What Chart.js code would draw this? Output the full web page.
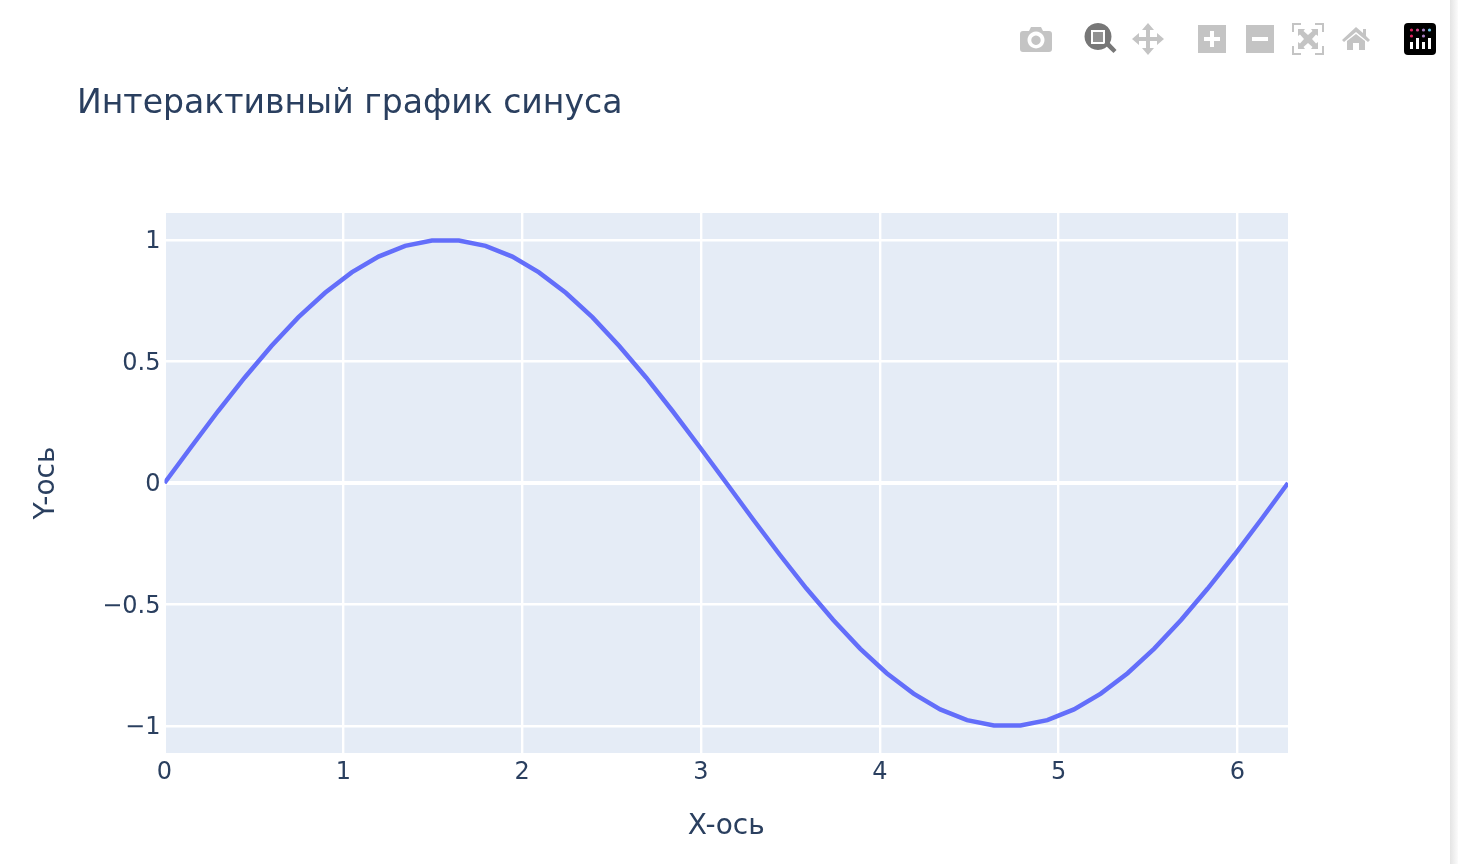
<!DOCTYPE html>
<html lang="ru">
<head>
<meta charset="utf-8">
<title>Интерактивный график синуса</title>
<script src="https://cdn.jsdelivr.net/npm/chart.js@4/dist/chart.umd.min.js"></script>
<style>
  html, body { margin: 0; padding: 0; background: #fff; overflow: hidden; }
  #wrap { position: relative; width: 1450px; height: 864px; }
  #edge { position: absolute; left: 1450px; top: 0; width: 8px; height: 864px;
          background: linear-gradient(to right, #e4e4e4, #fbfbfb); }
  #modebar { position: absolute; left: 1000px; top: 0; }
</style>
</head>
<body>
<div id="wrap">
  <canvas id="sine-chart"></canvas>
  <!-- Modebar icons -->
  <svg id="modebar" width="450" height="70" viewBox="1000 0 450 70">
    <g fill="#c4c4c4">
      <path fill-rule="evenodd" d="M1023 31h6l2-4h10l2 4h6a3 3 0 0 1 3 3v15a3 3 0 0 1-3 3h-26a3 3 0 0 1-3-3v-15a3 3 0 0 1 3-3zM1036 31.500a8.500 8.500 0 1 0 .01 0zM1036 35.500a4.700 4.700 0 1 1-.01 0z"/>
      <path d="M1148 23l6 7h-4v7h7v-4l7 6-7 6v-4h-7v7h4l-6 7-6-7h4v-7h-7v4l-7-6 7-6v4h7v-7h-4z"/>
      <path fill-rule="evenodd" d="M1198 25h28v28h-28zM1210 31v6h-6v4h6v6h4v-6h6v-4h-6v-6z"/>
      <path fill-rule="evenodd" d="M1246 25h28v28h-28zM1252 37v4h16v-4z"/>
      <path d="M1292 23h9v2h-7v7h-2zM1315 23h9v9h-2v-7h-7zM1292 46h2v7h7v2h-9zM1322 46h2v9h-9v-2h7z"/>
      <path d="M1298 29h7l-1.500 2 4.500 4 4.500-4-1.500-2h7v7l-2-1.500-4 4.500 4 4.500 2-1.500v7h-7l1.500-2-4.500-4-4.500 4 1.500 2h-7v-7l2 1.500 4-4.500-4-4.500-2 1.500z"/>
      <path d="M1356 27l7 6v-4h3v7l4 4-2 2-12-10-12 10-2-2zM1347 41l9-7 9 7v9h-6v-7h-6v7h-6z"/>
    </g>
    <path d="M1104 44l3.500-3.500 9 9.500-3 3z" fill="#777"/>
    <path fill-rule="evenodd" d="M1098 23a13.500 13.500 0 1 0 .01 0zM1091 30h14v14h-14z" fill="#777"/>
    <rect x="1093" y="32" width="10" height="10" fill="#777" opacity="0.8"/>
    <rect x="1404" y="23" width="32" height="32" rx="4" fill="#000"/>
    <g fill="#fff">
      <rect x="1410" y="42" width="3" height="7"/>
      <rect x="1416" y="38" width="3" height="11"/>
      <rect x="1422" y="42" width="3" height="7"/>
      <rect x="1428" y="38" width="3" height="11"/>
    </g>
    <g>
      <circle cx="1411.500" cy="30" r="1.600" fill="#e0245e"/>
      <circle cx="1417.500" cy="30" r="1.600" fill="#d04a8c"/>
      <circle cx="1423.500" cy="30" r="1.600" fill="#a97fc4"/>
      <circle cx="1429.500" cy="30" r="1.600" fill="#6fc6e6"/>
      <circle cx="1411.500" cy="36" r="1.600" fill="#e0245e"/>
      <circle cx="1423.500" cy="36" r="1.600" fill="#a97fc4"/>
    </g>
  </svg>
  <div id="edge"></div>
</div>
<script>
// Data
const xValues = [0, 0.150, 0.299, 0.449, 0.598, 0.748, 0.898, 1.047, 1.197, 1.346,
  1.496, 1.646, 1.795, 1.945, 2.094, 2.244, 2.394, 2.543, 2.693, 2.842,
  2.992, 3.142, 3.291, 3.441, 3.590, 3.740, 3.890, 4.039, 4.189, 4.338,
  4.488, 4.638, 4.787, 4.937, 5.086, 5.236, 5.386, 5.535, 5.685, 5.834,
  5.984, 6.134, 6.283];
const yValues = [0, 0.149, 0.295, 0.434, 0.563, 0.681, 0.782, 0.866, 0.931, 0.975,
  0.997, 0.997, 0.975, 0.931, 0.866, 0.782, 0.681, 0.563, 0.434, 0.295,
  0.149, 0, -0.149, -0.295, -0.434, -0.563, -0.681, -0.782, -0.866, -0.931,
  -0.975, -0.997, -0.997, -0.975, -0.931, -0.866, -0.782, -0.681, -0.563, -0.434,
  -0.295, -0.149, 0];
const xTicks = [0, 1, 2, 3, 4, 5, 6];
const yTicks = [-1, -0.5, 0, 0.5, 1];
const yTickLabels = ['−1', '−0.5', '0', '0.5', '1'];

const titleText = 'Интерактивный график синуса';
const xTitle = 'X-ось';
const yTitle = 'Y-ось';

const inkColor = '#2a3f5f';
const lineColor = '#636efa';
const plotColor = '#e5ecf6';
const fontFamily = '"DejaVu Sans", sans-serif';

// Plot background, title offset, y labels nudged down to sit on their gridlines
const plotBackground = {
  id: 'plotBackground',
  afterLayout(chart) {
    chart.titleBlock.left = 77;
    chart.scales.y.getLabelItems().forEach(item => { item.options.translation[1] += 2; });
  },
  beforeDraw(chart) {
    const { ctx, chartArea: a } = chart;
    ctx.save();
    ctx.fillStyle = plotColor;
    ctx.fillRect(a.left + 1.5, a.top, a.right - a.left - 1.5, a.bottom - a.top);
    ctx.restore();
  }
};

new Chart(document.getElementById('sine-chart'), {
  type: 'line',
  data: {
    datasets: [{
      data: xValues.map((x, i) => ({ x: x, y: yValues[i] })),
      borderColor: lineColor,
      borderWidth: 4.5,
      pointRadius: 0,
      tension: 0
    }]
  },
  options: {
    responsive: true,
    maintainAspectRatio: false,
    animation: false,
    layout: { padding: { left: 0, right: 162, top: 0, bottom: 0 } },
    plugins: {
      legend: { display: false },
      tooltip: { enabled: false },
      title: {
        display: true,
        text: titleText,
        align: 'start',
        color: inkColor,
        font: { family: fontFamily, size: 33.1, weight: 'normal', lineHeight: 1.2 },
        padding: { top: 85, bottom: 88.300 }
      }
    },
    scales: {
      x: {
        type: 'linear',
        min: 0,
        max: 6.283,
        afterBuildTicks: (axis) => { axis.ticks = xTicks.map(v => ({ value: v })); },
        afterFit: (axis) => { axis.height = 111; },
        grid: {
          color: '#ffffff',
          lineWidth: 2.4,
          drawTicks: false
        },
        border: { display: false },
        ticks: {
          color: inkColor,
          font: { family: fontFamily, size: 24 },
          padding: 5,
          maxRotation: 0,
          autoSkip: false
        },
        title: {
          display: true,
          text: xTitle,
          color: inkColor,
          font: { family: fontFamily, size: 28 },
          padding: { top: 24, bottom: 20 }
        }
      },
      y: {
        type: 'linear',
        min: -1.11,
        max: 1.11,
        afterBuildTicks: (axis) => { axis.ticks = yTicks.map(v => ({ value: v })); },
        afterFit: (axis) => { axis.width = 164.5; },
        grid: {
          color: '#ffffff',
          lineWidth: (c) => (c.tick && c.tick.value === 0 ? 4 : 2.4),
          drawTicks: false
        },
        border: { display: false },
        ticks: {
          color: inkColor,
          font: { family: fontFamily, size: 24 },
          padding: 4,
          autoSkip: false,
          callback: (value) => yTickLabels[yTicks.indexOf(value)]
        },
        title: {
          display: true,
          text: yTitle,
          color: inkColor,
          font: { family: fontFamily, size: 28 },
          padding: { top: 30, bottom: 0 }
        }
      }
    }
  },
  plugins: [plotBackground]
});
</script>
</body>
</html>
